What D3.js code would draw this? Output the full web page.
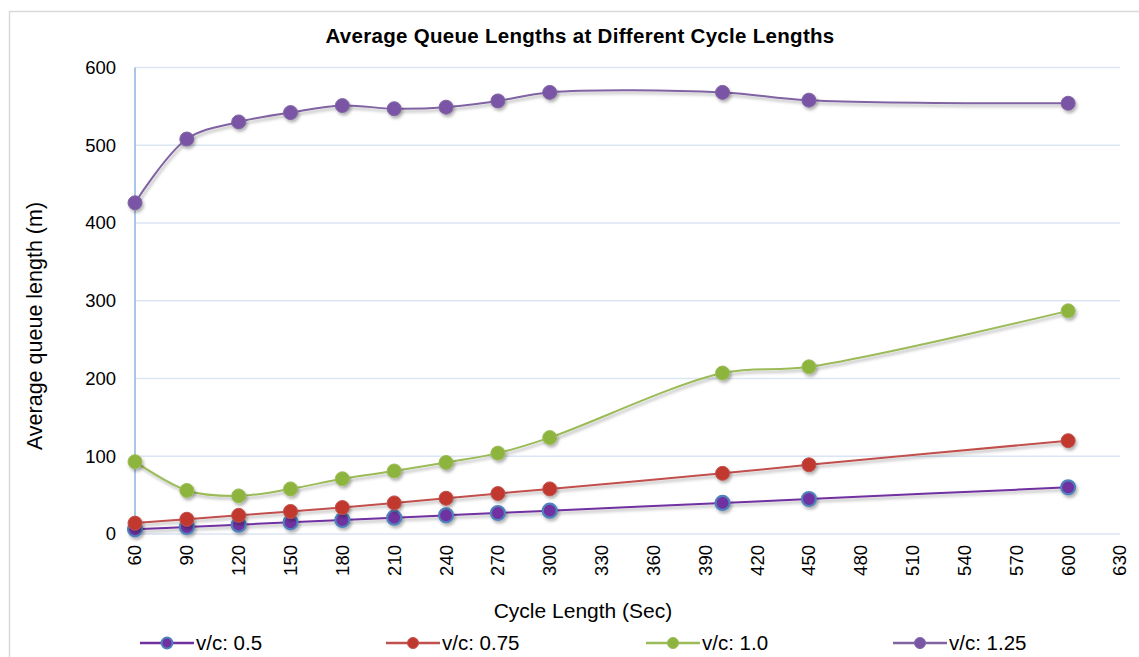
<!DOCTYPE html>
<html><head><meta charset="utf-8">
<script src="https://cdn.jsdelivr.net/npm/d3@7"></script>
<style>body{margin:0;background:#fff;} text{font-family:"Liberation Sans",Arial,sans-serif;}</style>
</head><body>
<svg id="c" width="1139" height="657"></svg>
<script>
const cycles = [60, 90, 120, 150, 180, 210, 240, 270, 300, 400, 450, 600];
const vc050 = [6, 9, 12, 15, 18, 21, 24, 27, 30, 40, 45, 60];
const vc075 = [14, 19, 24, 29, 34, 40, 46, 52, 58, 78, 89, 120];
const vc100 = [93, 56, 49, 58, 71, 81, 92, 104, 124, 207, 215, 287];
const vc125 = [426, 508, 530, 542, 551, 547, 549, 557, 568, 568, 558, 554];
const seriesNames = ["v/c: 0.5", "v/c: 0.75", "v/c: 1.0", "v/c: 1.25"];
const xTicks = [60,90,120,150,180,210,240,270,300,330,360,390,420,450,480,510,540,570,600,630];
const yTicks = [0,100,200,300,400,500,600];

const series = [
  {name: seriesNames[0], values: vc050, line: "#7030a0", fill: "#7030a0", stroke: "#4f81bd"},
  {name: seriesNames[1], values: vc075, line: "#c0504d", fill: "#c0392f", stroke: "#c0504d"},
  {name: seriesNames[2], values: vc100, line: "#9bbb59", fill: "#8db43e", stroke: "#9bbb59"},
  {name: seriesNames[3], values: vc125, line: "#8064a2", fill: "#7a55a6", stroke: "#8064a2"}
];

const svg = d3.select("#c");
const defs = svg.append("defs");
const f = defs.append("filter").attr("id","sh").attr("x","-50%").attr("y","-50%").attr("width","200%").attr("height","200%");
f.append("feDropShadow").attr("dx",1.5).attr("dy",2.5).attr("stdDeviation",1.6).attr("flood-color","#000").attr("flood-opacity",0.3);

// border
svg.append("rect").attr("x",9.5).attr("y",11.5).attr("width",1140).attr("height",660)
  .attr("fill","none").attr("stroke","#d9d9d9").attr("stroke-width",1.5);

const x = d3.scaleLinear().domain([60,630]).range([135,1120]);
const y = d3.scaleLinear().domain([0,600]).range([534,67.5]);

// gridlines
svg.append("g").selectAll("line").data(yTicks).join("line")
  .attr("x1",135).attr("x2",1120).attr("y1",d=>y(d)).attr("y2",d=>y(d))
  .attr("stroke","#dbe5f4").attr("stroke-width",1.5);

// y axis line
svg.append("line").attr("x1",135).attr("x2",135).attr("y1",y(600)).attr("y2",y(0))
  .attr("stroke","#8db3e2").attr("stroke-width",1.5);

// y tick labels
svg.append("g").selectAll("text").data(yTicks).join("text")
  .attr("x",116).attr("y",d=>y(d)).attr("dy","0.35em").attr("text-anchor","end")
  .attr("font-size",18.5).attr("fill","#000").text(d=>d);

// x tick labels
svg.append("g").selectAll("text").data(xTicks).join("text")
  .attr("transform",d=>`translate(${x(d)},545) rotate(-90)`)
  .attr("text-anchor","end").attr("dy","0.35em")
  .attr("font-size",18.5).attr("fill","#000").text(d=>d);

// titles
svg.append("text").attr("x",580).attr("y",43).attr("text-anchor","middle")
  .attr("font-size",20.5).attr("font-weight","bold").attr("letter-spacing",0.3)
  .text("Average Queue Lengths at Different Cycle Lengths");
svg.append("text").attr("x",583).attr("y",618).attr("text-anchor","middle")
  .attr("font-size",21).text("Cycle Length (Sec)");
svg.append("text").attr("transform","translate(42,326) rotate(-90)").attr("text-anchor","middle")
  .attr("font-size",21.5).text("Average queue length (m)");

const line = d3.line().x(d=>x(d[0])).y(d=>y(d[1])).curve(d3.curveCatmullRom.alpha(0.5));

series.forEach(s=>{
  const pts = cycles.map((c,i)=>[c,s.values[i]]);
  const g = svg.append("g").attr("filter","url(#sh)");
  g.append("path").datum(pts).attr("d",line).attr("fill","none").attr("stroke",s.line).attr("stroke-width",2);
});
series.forEach(s=>{
  const pts = cycles.map((c,i)=>[c,s.values[i]]);
  const g = svg.append("g").attr("filter","url(#sh)");
  g.selectAll("circle").data(pts).join("circle")
    .attr("cx",d=>x(d[0])).attr("cy",d=>y(d[1])).attr("r",7)
    .attr("fill",s.fill).attr("stroke",s.stroke).attr("stroke-width",s===series[0]?2.2:1);
});

// legend
const legX = [140, 386, 646, 893];
series.forEach((s,i)=>{
  const g = svg.append("g").attr("transform",`translate(${legX[i]},643)`);
  g.append("line").attr("x1",0).attr("x2",54).attr("y1",0).attr("y2",0).attr("stroke",s.line).attr("stroke-width",2.5);
  g.append("circle").attr("cx",27).attr("cy",0).attr("r",5.5).attr("fill",s.fill).attr("stroke",s.stroke).attr("stroke-width",s===series[0]?2:1);
  g.append("text").attr("x",56).attr("y",0).attr("dy","0.36em").attr("font-size",20.5).text(s.name);
});
</script>
</body></html>
